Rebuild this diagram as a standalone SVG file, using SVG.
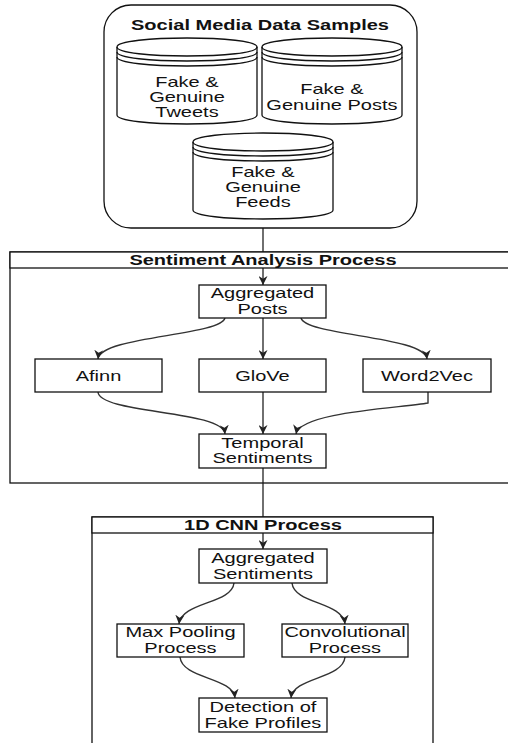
<svg xmlns="http://www.w3.org/2000/svg" width="508" height="743" viewBox="0 0 508 743">
<style>
  .box{fill:#fff;stroke:#111;stroke-width:1.3}
  .lane{fill:none;stroke:#111;stroke-width:1.3}
  .hdr{fill:#fff;stroke:#111;stroke-width:1.3}
  .edge{fill:none;stroke:#333;stroke-width:1.4}
  text{font-family:"Liberation Sans",Arial,sans-serif;font-size:14.5px;fill:#111;text-anchor:middle;transform-box:fill-box;transform-origin:center;transform:scaleX(1.38)}
  .b{font-weight:bold}
</style>
<defs>
  <marker id="arr" viewBox="0 0 10 10" refX="10" refY="5" markerWidth="9" markerHeight="9" markerUnits="userSpaceOnUse" orient="auto">
    <path d="M0,0 L10,5 L0,10 L3,5 Z" fill="#222"/>
  </marker>
  <g id="cyl">
    <path class="box" d="M0,9 C0,-3 140,-3 140,9 L140,77 C140,89 0,89 0,77 Z"/>
    <path class="lane" d="M0,9 C0,21 140,21 140,9 M0,14 C0,26 140,26 140,14 M0,19 C0,31 140,31 140,19"/>
  </g>
</defs>

<g id="connectors">
  <path class="edge" d="M263,228 V285" marker-end="url(#arr)"/>
  <path class="edge" d="M225,318 C220,336 100,336 98,359" marker-end="url(#arr)"/>
  <path class="edge" d="M263,318 V359" marker-end="url(#arr)"/>
  <path class="edge" d="M301,318 C306,336 425,336 427,359" marker-end="url(#arr)"/>
  <path class="edge" d="M98,392 C100,414 223,410 225,434" marker-end="url(#arr)"/>
  <path class="edge" d="M263,392 V434" marker-end="url(#arr)"/>
  <path class="edge" d="M428,392 V403 C400,408 300,412 296,434" marker-end="url(#arr)"/>
  <path class="edge" d="M263,468 V549" marker-end="url(#arr)"/>
  <path class="edge" d="M234,583 C232,604 181,602 179,624" marker-end="url(#arr)"/>
  <path class="edge" d="M292,583 C294,604 343,602 345,624" marker-end="url(#arr)"/>
  <path class="edge" d="M180,657 C182,679 233,677 235,698" marker-end="url(#arr)"/>
  <path class="edge" d="M345,657 C343,679 293,677 291,698" marker-end="url(#arr)"/>
</g>

<g id="social-media-data-samples">
  <rect class="lane" x="104" y="5" width="313" height="223" rx="27"/>
  <text class="b" x="260" y="30">Social Media Data Samples</text>
</g>
<g id="tweets">
  <use href="#cyl" x="117" y="38"/>
  <text x="187" y="87">Fake &amp;</text>
  <text x="187" y="102">Genuine</text>
  <text x="187" y="117">Tweets</text>
</g>
<g id="posts">
  <use href="#cyl" x="262" y="38"/>
  <text x="332" y="94">Fake &amp;</text>
  <text x="332" y="110">Genuine Posts</text>
</g>
<g id="feeds">
  <use href="#cyl" x="193" y="133"/>
  <text x="263" y="177">Fake &amp;</text>
  <text x="263" y="192">Genuine</text>
  <text x="263" y="207">Feeds</text>
</g>

<g id="sentiment-analysis-process">
  <rect class="lane" x="10" y="252" width="520" height="231"/>
  <rect class="hdr" x="10" y="252" width="520" height="16"/>
  <text class="b" x="263" y="265">Sentiment Analysis Process</text>
</g>
<g id="aggregated-posts">
  <rect class="box" x="199" y="285" width="127" height="33"/>
  <text x="262.5" y="298">Aggregated</text>
  <text x="262.5" y="314">Posts</text>
</g>
<g id="afinn">
  <rect class="box" x="35" y="359" width="127" height="33"/>
  <text x="98.5" y="381">Afinn</text>
</g>
<g id="glove">
  <rect class="box" x="199" y="359" width="127" height="33"/>
  <text x="262.5" y="381">GloVe</text>
</g>
<g id="word2vec">
  <rect class="box" x="363" y="359" width="128" height="33"/>
  <text x="427" y="381">Word2Vec</text>
</g>
<g id="temporal-sentiments">
  <rect class="box" x="199" y="434" width="127" height="34"/>
  <text x="262.5" y="448">Temporal</text>
  <text x="262.5" y="463">Sentiments</text>
</g>

<g id="cnn-process">
  <rect class="lane" x="92" y="517" width="341" height="240"/>
  <rect class="hdr" x="92" y="517" width="341" height="16"/>
  <text class="b" x="263" y="530">1D CNN Process</text>
</g>
<g id="aggregated-sentiments">
  <rect class="box" x="199" y="549" width="128" height="34"/>
  <text x="263" y="563">Aggregated</text>
  <text x="263" y="579">Sentiments</text>
</g>
<g id="max-pooling">
  <rect class="box" x="117" y="624" width="127" height="33"/>
  <text x="180.5" y="637">Max Pooling</text>
  <text x="180.5" y="653">Process</text>
</g>
<g id="convolutional">
  <rect class="box" x="282" y="624" width="126" height="33"/>
  <text x="345" y="637">Convolutional</text>
  <text x="345" y="653">Process</text>
</g>
<g id="detection">
  <rect class="box" x="199" y="698" width="128" height="34"/>
  <text x="263" y="712">Detection of</text>
  <text x="263" y="728">Fake Profiles</text>
</g>
</svg>
